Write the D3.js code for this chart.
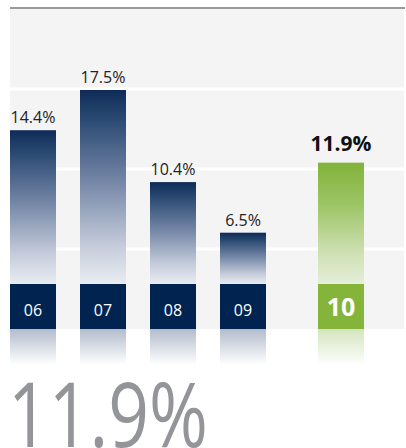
<!DOCTYPE html>
<html>
<head>
<meta charset="utf-8">
<script src="https://cdn.jsdelivr.net/npm/d3@7"></script>
<style>
  html, body { margin: 0; padding: 0; background: #fff; }
  svg { display: block; }
</style>
</head>
<body>
<div id="chart"></div>
<script>
// data
const years = ["06", "07", "08", "09"];
const rates = [14.4, 17.5, 10.4, 6.5];
const currentYear = "10";
const currentRate = 11.9;
const bigLabel = "11.9%";

const width = 406;
const height = 448;

const panelTop = 9;
const panelBottom = 329;
const boxTop = 284;
const reflectH = 36;

const svg = d3.select('#chart')
  .append('svg')
  .attr('width', width)
  .attr('height', height)
  .style('font-family', '"Open Sans", sans-serif');

const defs = svg.append('defs');

function vGrad(id, stops) {
  const g = defs.append('linearGradient')
    .attr('id', id)
    .attr('x1', 0).attr('y1', 0)
    .attr('x2', 0).attr('y2', 1);
  stops.forEach(s => g.append('stop')
    .attr('offset', s[0])
    .attr('stop-color', s[1]));
}

vGrad('navy', [[0, '#0e2b57'], [0.12, '#24446d'], [0.45, '#6f82a3'], [0.8, '#c4cbda'], [1, '#e9ecf2']]);
vGrad('green', [[0, '#82b33a'], [0.35, '#9dc566'], [0.75, '#cfe1b4'], [1, '#e4eedb']]);
vGrad('navyRefl', [[0, '#b3bccc'], [1, '#ffffff']]);
vGrad('greenRefl', [[0, '#d3e4bd'], [1, '#ffffff']]);

// background panel
svg.append('rect')
  .attr('x', 10)
  .attr('y', panelTop)
  .attr('width', 394)
  .attr('height', panelBottom - panelTop)
  .attr('fill', '#f4f4f4');

svg.append('line')
  .attr('x1', 10).attr('x2', 405)
  .attr('y1', 8).attr('y2', 8)
  .attr('stroke', '#9a9a9a')
  .attr('stroke-width', 2);

// white grid lines, every quarter of the panel
const panelH = panelBottom - panelTop;
svg.selectAll('.grid')
  .data(d3.range(1, 4))
  .enter()
  .append('line')
  .attr('class', 'grid')
  .attr('x1', 10).attr('x2', 404)
  .attr('y1', d => panelTop + d * panelH / 4)
  .attr('y2', d => panelTop + d * panelH / 4)
  .attr('stroke', '#ffffff')
  .attr('stroke-width', 3);

const y = d3.scaleLinear()
  .domain([0, 17.5])
  .range([317, 90]);

const x = d3.scaleBand()
  .domain(years)
  .range([10, 266])
  .paddingInner(0.343)
  .paddingOuter(0);

const bw = x.bandwidth();
const step = x.step();

const bars = years.map((yr, i) => ({
  year: yr, rate: rates[i], x: x(yr), current: false
}));
bars.push({
  year: currentYear, rate: currentRate,
  x: x(years[years.length - 1]) + step * 1.4, current: true
});

const g = svg.append('g');

// bars
g.selectAll('.bar')
  .data(bars)
  .enter()
  .append('rect')
  .attr('class', 'bar')
  .attr('x', d => d.x)
  .attr('y', d => y(d.rate))
  .attr('width', bw)
  .attr('height', d => boxTop - y(d.rate))
  .attr('fill', d => d.current ? 'url(#green)' : 'url(#navy)');

// year boxes
g.selectAll('.box')
  .data(bars)
  .enter()
  .append('rect')
  .attr('class', 'box')
  .attr('x', d => d.x)
  .attr('y', boxTop)
  .attr('width', bw)
  .attr('height', panelBottom - boxTop)
  .attr('fill', d => d.current ? '#84b53a' : '#00234f');

// reflections
g.selectAll('.refl')
  .data(bars)
  .enter()
  .append('rect')
  .attr('class', 'refl')
  .attr('x', d => d.x)
  .attr('y', panelBottom)
  .attr('width', bw)
  .attr('height', reflectH)
  .attr('fill', d => d.current ? 'url(#greenRefl)' : 'url(#navyRefl)');

// year labels
g.selectAll('.yr')
  .data(bars)
  .enter()
  .append('text')
  .attr('class', 'yr')
  .attr('x', d => d.x + bw / 2)
  .attr('y', 316)
  .attr('text-anchor', 'middle')
  .attr('fill', '#ffffff')
  .style('font-size', d => d.current ? '25px' : '16px')
  .style('font-weight', d => d.current ? 700 : 400)
  .text(d => d.year);

// value labels
g.selectAll('.val')
  .data(bars)
  .enter()
  .append('text')
  .attr('class', 'val')
  .attr('x', d => d.x + bw / 2)
  .attr('y', d => d.current ? y(d.rate) - 12 : y(d.rate) - 7)
  .attr('text-anchor', 'middle')
  .attr('fill', d => d.current ? '#111' : '#222')
  .style('font-size', d => d.current ? '21px' : '16px')
  .style('font-weight', d => d.current ? 700 : 400)
  .text(d => d.rate.toFixed(1) + '%');

// big figure (cut by the bottom edge, as in the source)
svg.append('text')
  .attr('x', 8)
  .attr('y', 447)
  .attr('fill', '#939598')
  .style('font-size', '90px')
  .style('font-weight', 400)
  .attr('textLength', 200)
  .attr('lengthAdjust', 'spacingAndGlyphs')
  .text(bigLabel);
</script>
</body>
</html>
